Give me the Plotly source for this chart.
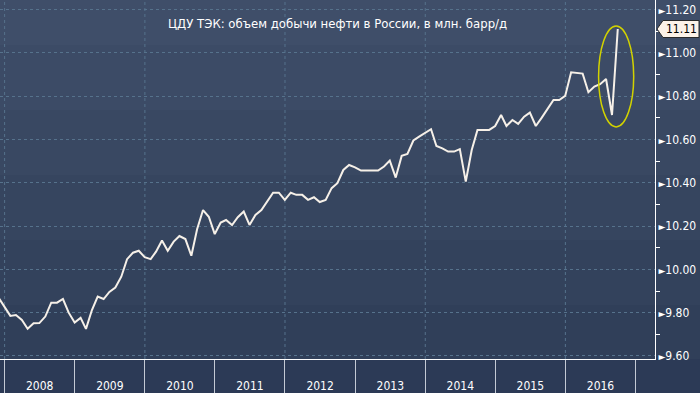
import pandas as pd
import plotly.graph_objects as go

# ---------------- data ----------------
title_text = "ЦДУ ТЭК: объем добычи нефти в России, в млн. барр/д"
first_month_end = "2007-11-30"
production = [
    9.870, 9.830,
    # 2008
    9.785, 9.789, 9.766, 9.726, 9.751, 9.752, 9.782, 9.846, 9.846, 9.863, 9.800, 9.754,
    # 2009
    9.776, 9.725, 9.812, 9.874, 9.863, 9.896, 9.916, 9.966, 10.047, 10.077, 10.086, 10.056,
    # 2010
    10.047, 10.082, 10.133, 10.086, 10.128, 10.154, 10.140, 10.063, 10.185, 10.274, 10.243, 10.163,
    # 2011
    10.216, 10.228, 10.205, 10.241, 10.267, 10.205, 10.251, 10.274, 10.313, 10.354, 10.354, 10.321,
    # 2012
    10.354, 10.344, 10.344, 10.321, 10.333, 10.311, 10.321, 10.375, 10.398, 10.459, 10.482, 10.471,
    # 2013
    10.456, 10.456, 10.456, 10.456, 10.475, 10.502, 10.424, 10.524, 10.533, 10.595, 10.613, 10.631,
    # 2014
    10.647, 10.570, 10.559, 10.544, 10.544, 10.555, 10.405, 10.551, 10.644, 10.644, 10.644, 10.662,
    # 2015
    10.713, 10.662, 10.690, 10.672, 10.705, 10.724, 10.662, 10.701, 10.741, 10.782, 10.782, 10.801,
    # 2016
    10.910, 10.906, 10.904, 10.818, 10.844, 10.855, 10.879, 10.713, 11.110,
]
dates = pd.date_range(first_month_end, periods=len(production), freq="ME")

y_ticks = [9.6, 9.8, 10.0, 10.2, 10.4, 10.6, 10.8, 11.0, 11.2]
y_tick_labels = ["9.60", "9.80", "10.00", "10.20", "10.40", "10.60", "10.80", "11.00", "11.20"]
grid_years = [2008, 2010, 2012, 2014, 2016]
highlight_x = ["2016-06-22", "2016-12-22"]
highlight_y = [10.658, 11.124]

# ---------------- styling ----------------
W, H = 700, 393
ML, MR, MT, MB = 0, 45, 0, 34
PW, PH = W - ML - MR, H - MT - MB
FONT = "DejaVu Sans Condensed, Liberation Sans Narrow, DejaVu Sans, sans-serif"
GRID = "#56728c"
Y_RANGE = [9.586, 11.244]
X_RANGE = ["2007-12-08", "2017-04-12"]

fig = go.Figure()
fig.add_trace(go.Scatter(
    x=dates, y=production, mode="lines",
    line=dict(color="#f6f0e8", width=2),
    hoverinfo="skip", showlegend=False,
))

shapes = []
# background bands (gradient-like)
band_edges = [0, 45, 110, 175, 240, 305, 359, 393]
band_colors = ["#3f4e69", "#3c4b66", "#394862", "#36455f", "#33425c", "#303f59", "#2c3a56"]
for i, c in enumerate(band_colors):
    shapes.append(dict(
        type="rect", xref="paper", yref="paper",
        x0=-0.01, x1=W / PW + 0.01,
        y0=1 - band_edges[i + 1] / PH, y1=1 - band_edges[i] / PH,
        fillcolor=c, line=dict(width=0), layer="below",
    ))
# vertical dashed grid every two years
for yr in grid_years:
    shapes.append(dict(
        type="line", xref="x", yref="paper",
        x0=f"{yr}-01-01", x1=f"{yr}-01-01", y0=0, y1=1,
        line=dict(color=GRID, width=1, dash="3px,3px"), layer="below",
    ))
# highlight ellipse
shapes.append(dict(
    type="circle", xref="x", yref="y",
    x0=highlight_x[0], x1=highlight_x[1], y0=highlight_y[0], y1=highlight_y[1],
    line=dict(color="#d2d200", width=1.5), layer="above",
))
# last value tag
last = production[-1]
tip, base, right = 657 / PW, 663 / PW, 699 / PW
hh = 8.5 / (PH / (Y_RANGE[1] - Y_RANGE[0]))
shapes.append(dict(
    type="path", xref="paper", yref="y",
    path=(f"M {tip} {last} L {base} {last + hh} L {right} {last + hh} "
          f"L {right} {last - hh} L {base} {last - hh} Z"),
    fillcolor="#fcf2e8", line=dict(color="#2a2a2a", width=1), layer="above",
))

annotations = [
    dict(text=title_text, xref="paper", yref="paper", x=337 / PW, y=1 - 24 / PH,
         showarrow=False, xanchor="center", yanchor="middle",
         font=dict(color="white", size=13, family=FONT)),
    dict(text=f"{last:.2f}", xref="paper", yref="y", x=(base + right) / 2, y=last,
         showarrow=False, xanchor="center", yanchor="middle",
         font=dict(color="black", size=12, family=FONT)),
]

fig.update_layout(
    width=W, height=H,
    margin=dict(l=ML, r=MR, t=MT, b=MB, pad=0),
    paper_bgcolor="#2c3a56", plot_bgcolor="rgba(0,0,0,0)",
    shapes=shapes, annotations=annotations, showlegend=False,
    xaxis=dict(
        type="date", range=X_RANGE, tick0="2008-01-01", dtick="M12",
        tickformat="%Y", ticklabelmode="period",
        ticks="outside", ticklen=34, tickcolor="#c3c9d4", tickwidth=1,
        ticklabelstandoff=-18,
        showgrid=False, zeroline=False,
        showline=True, linecolor="white", linewidth=1,
        tickfont=dict(color="white", size=12, family=FONT),
        automargin=False, fixedrange=True,
    ),
    yaxis=dict(
        side="right", range=Y_RANGE,
        tickmode="array", tickvals=y_ticks,
        ticktext=['<span style="font-size:10px">►</span>' + t for t in y_tick_labels],
        ticks="", showgrid=True, gridcolor=GRID, griddash="3px,3px", gridwidth=1,
        zeroline=False, showline=True, linecolor="white", linewidth=1,
        minor=dict(tick0=9.7, dtick=0.2, ticks="outside", ticklen=4,
                   tickcolor="white", showgrid=False),
        tickfont=dict(color="white", size=12, family=FONT),
        automargin=False, fixedrange=True,
    ),
)

fig.write_html("out.html")
